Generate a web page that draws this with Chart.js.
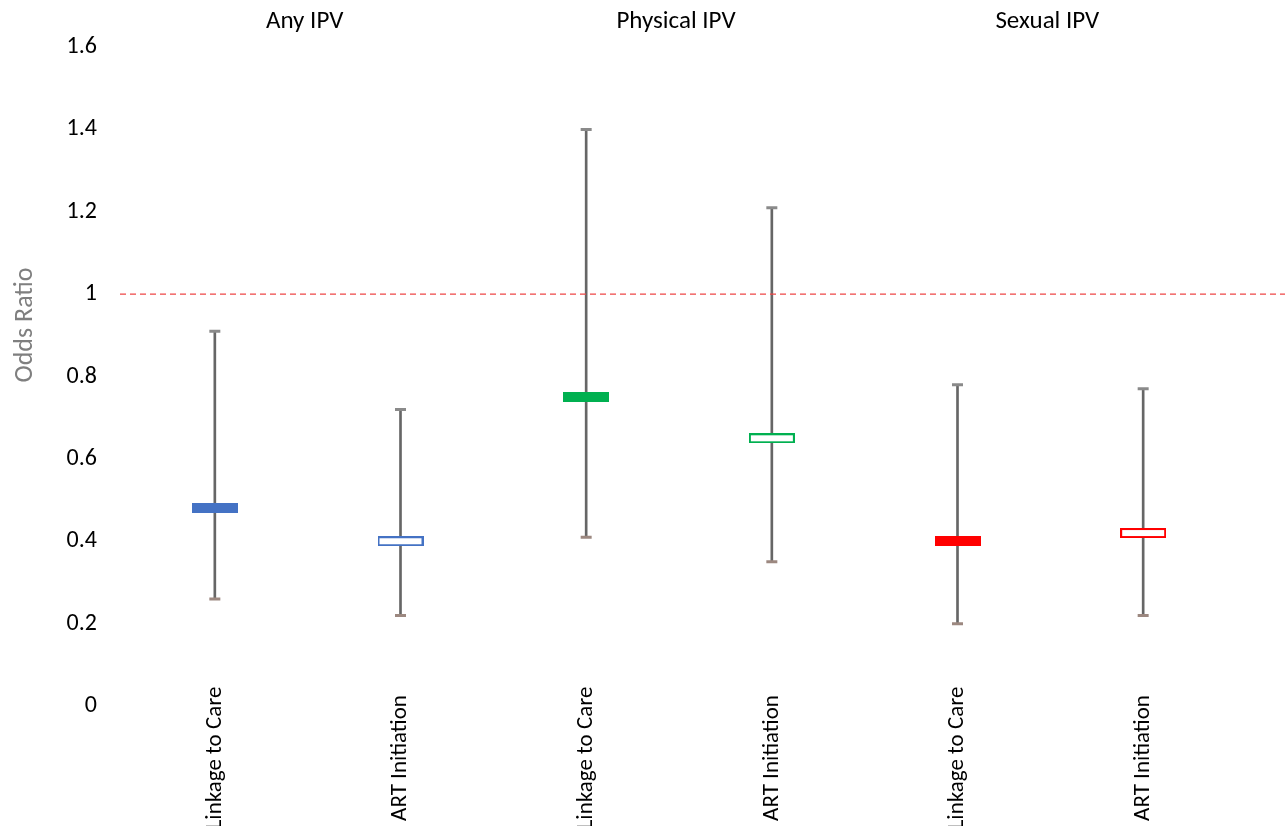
<!DOCTYPE html>
<html>
<head>
<meta charset="utf-8">
<script src="https://cdn.jsdelivr.net/npm/chart.js@4.4.1/dist/chart.umd.min.js"></script>
<style>
  html, body { margin: 0; padding: 0; background: #fff; overflow: hidden; }
  #wrap { width: 1285px; height: 826px; position: relative; }
</style>
</head>
<body>
<div id="wrap"><canvas id="chart"></canvas></div>
<script>
// data
const categories = ['Linkage to Care', 'ART Initiation', 'Linkage to Care', 'ART Initiation', 'Linkage to Care', 'ART Initiation'];
const groups = ['Any IPV', 'Physical IPV', 'Sexual IPV'];
const oddsRatio = [0.48, 0.40, 0.75, 0.65, 0.40, 0.42];
const lowerCI = [0.26, 0.22, 0.41, 0.35, 0.20, 0.22];
const upperCI = [0.91, 0.72, 1.40, 1.21, 0.78, 0.77];
const groupColors = ['#4472C4', '#00B050', '#FF0000'];
const referenceLine = 1;

const FONT = 'Carlito, Lato, "Open Sans", sans-serif';
Chart.defaults.font.family = FONT;
Chart.defaults.color = '#000';

// marker box: filled for linkage, hollow for ART
function makeMarker(color, filled) {
    const c = document.createElement('canvas');
    c.width = 46;
    c.height = 10;
    const g = c.getContext('2d');
    if (filled) {
        g.fillStyle = color;
        g.fillRect(0, 0, 46, 10);
    } else {
        g.fillStyle = '#fff';
        g.fillRect(0, 0, 46, 10);
        g.strokeStyle = color;
        g.lineWidth = 2;
        g.strokeRect(1, 1, 44, 8);
    }
    return c;
}
const markerStyles = categories.map((c, i) => makeMarker(groupColors[Math.floor(i / 2)], i % 2 === 0));

// dashed reference line, group headings, category labels, axis title
const extras = {
    id: 'extras',
    afterDatasetsDraw(chart) {
        const { ctx, chartArea, scales } = chart;
        const y = scales.y.getPixelForValue(referenceLine);
        ctx.save();
        ctx.strokeStyle = '#EE4646';
        ctx.lineWidth = 1.2;
        ctx.setLineDash([6, 4]);
        ctx.beginPath();
        ctx.moveTo(chartArea.left - 2, y);
        ctx.lineTo(chart.width, y);
        ctx.stroke();
        ctx.restore();
    },
    afterDraw(chart) {
        const { ctx, scales } = chart;
        const x = scales.x;
        ctx.save();
        ctx.fillStyle = '#000';
        ctx.textBaseline = 'middle';
        ctx.textAlign = 'center';

        ctx.font = '25px ' + FONT;
        groups.forEach((g, i) => {
            const mid = (x.getPixelForValue(2 * i) + x.getPixelForValue(2 * i + 1)) / 2;
            ctx.fillText(g, mid - 3, 22);
        });

        // rotated category labels, centred below the plot
        ctx.font = '23px ' + FONT;
        categories.forEach((c, i) => {
            ctx.save();
            ctx.translate(x.getPixelForValue(i), 758);
            ctx.rotate(-Math.PI / 2);
            ctx.fillText(c, 0, 0);
            ctx.restore();
        });

        ctx.save();
        ctx.font = '26px ' + FONT;
        ctx.fillStyle = '#7f7f7f';
        ctx.translate(25, 325);
        ctx.rotate(-Math.PI / 2);
        ctx.fillText('Odds Ratio', 0, 0);
        ctx.restore();

        ctx.restore();
    }
};

new Chart(document.getElementById('chart'), {
    type: 'bar',
    data: {
        labels: categories,
        datasets: [
            {
                label: 'CI',
                data: lowerCI.map((lo, i) => [lo, upperCI[i]]),
                backgroundColor: '#666',
                barThickness: 2,
                grouped: false,
                order: 3
            },
            {
                type: 'line',
                label: 'upper',
                data: upperCI,
                showLine: false,
                pointStyle: 'line',
                pointRadius: 5.5,
                pointBorderWidth: 3,
                pointBorderColor: '#8a8a8a',
                order: 2
            },
            {
                type: 'line',
                label: 'lower',
                data: lowerCI,
                showLine: false,
                pointStyle: 'line',
                pointRadius: 5.5,
                pointBorderWidth: 3,
                pointBorderColor: '#9c8880',
                order: 2
            },
            {
                type: 'line',
                label: 'OR',
                data: oddsRatio,
                showLine: false,
                pointStyle: markerStyles,
                pointRadius: 10,
                order: 1
            }
        ]
    },
    options: {
        responsive: true,
        maintainAspectRatio: false,
        animation: false,
        layout: { padding: { top: 47, right: 49, left: 0, bottom: 0 } },
        plugins: {
            legend: { display: false },
            tooltip: { enabled: false }
        },
        scales: {
            x: {
                grid: { display: false, drawTicks: false },
                border: { display: false },
                ticks: { display: false },
                afterFit(scale) { scale.height = 120; }
            },
            y: {
                min: 0,
                max: 1.6,
                grid: { display: false, drawTicks: false },
                border: { display: false },
                ticks: {
                    stepSize: 0.2,
                    padding: 25,
                    font: { size: 24 },
                    color: '#000',
                    callback: v => String(+v.toFixed(1))
                },
                afterFit(scale) { scale.width = 122; }
            }
        }
    },
    plugins: [extras]
});
</script>
</body>
</html>
